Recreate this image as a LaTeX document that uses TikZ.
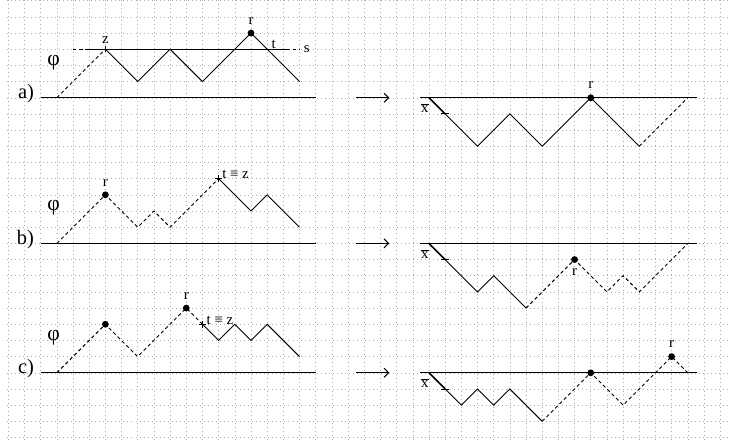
\documentclass[tikz,border=0pt]{standalone}
\usepackage{fontspec}
\setmainfont{Liberation Serif}
\usetikzlibrary{arrows.meta}
\begin{document}
\begin{tikzpicture}[x=0.5cm,y=-0.5cm,
  gridline/.style={black!32, line width=0.45pt, dash pattern=on 0.6pt off 2.94pt},
  pth/.style={line width=0.8pt, line join=miter},
  dpth/.style={line width=0.8pt, dash pattern=on 3pt off 2.4pt},
  thickseg/.style={line width=1.4pt},
  base/.style={line width=1.1pt},
  lbl/.style={font=\fontsize{13}{15}\selectfont, inner sep=0pt},
  panel/.style={font=\fontsize{18}{20}\selectfont, inner sep=0pt, anchor=base east},
  phil/.style={font=\fontsize{19}{21}\selectfont, inner sep=0pt},
  dot/.style={circle, fill=black, inner sep=0pt, minimum size=6pt},
  arr/.style={line width=0.9pt, -{Straight Barb[length=4pt,width=8pt]}},
]
\useasboundingbox (-0.513,-0.043) rectangle (44.67,27.21);
% grid
\foreach \i in {0,...,44} \draw[gridline] (\i,-0.043) -- (\i,27.21);
\foreach \j in {0,...,27} \draw[gridline] (-0.1,\j) -- (44.67,\j);

% ===== panel a, left =====
\coordinate (aB1) at (2,6); \coordinate (aB2) at (19,6);
\coordinate (aP0) at (3,6); \coordinate (aZ) at (6,3);
\coordinate (aP2) at (8,5); \coordinate (aP3) at (10,3); \coordinate (aP4) at (12,5);
\coordinate (aR) at (15,2); \coordinate (aP6) at (18,5);
\coordinate (aS0) at (4,3); \coordinate (aS1) at (4.9,3); \coordinate (aS2) at (17.2,3); \coordinate (aS3) at (18,3);
\draw[base] (aB1) -- (aB2);
\draw[dpth] (aP0) -- (aZ);
\draw[pth] (aZ) -- (aP2) -- (aP3) -- (aP4) -- (aR) -- (aP6);
\draw[dpth] (aS0) -- (aS1);
\draw[pth] (aS1) -- (aS2);
\draw[dpth] (aS2) -- (aS3);
\draw[pth,line width=0.6pt] (aZ) ++(-0.2,0) -- ++(0.4,0) (aZ) ++(0,-0.2) -- ++(0,0.4);
\node[dot] (aRd) at (aR) {};
\node[panel] (alab) at (1.6,6.05) {a)};
\node[phil] (aphi) at (2.8,3.85) {φ};
\node[lbl] (az) at (6,2.45) {z};
\node[lbl] (ar) at (15,1.24) {r};
\node[lbl] (at) at (16.4,2.72) {t};
\node[lbl] (as) at (18.45,3.0) {s};

% ===== panel a, right =====
\coordinate (AB1) at (25.45,6); \coordinate (AB2) at (42.55,6);
\coordinate (AP0) at (26,6); \coordinate (AT) at (27,7);
\coordinate (AP1) at (29,9); \coordinate (AP2) at (31,7); \coordinate (AP3) at (33,9);
\coordinate (AR) at (36,6); \coordinate (AP5) at (39,9); \coordinate (AP6) at (42,6);
\draw[base] (AB1) -- (AB2);
\draw[thickseg] (AP0) -- (AT);
\draw[pth] (AT) -- (AP1) -- (AP2) -- (AP3) -- (AR) -- (AP5);
\draw[dpth] (AP5) -- (AP6);
\draw[pth] (AT) ++(-0.25,0) -- ++(0.5,0);
\node[dot] (ARd) at (AR) {};
\node[lbl] (Ax) at (25.75,6.65) {$\overline{\mbox{x}}$};
\node[lbl] (Ar) at (36,5.2) {r};

% ===== panel b, left =====
\coordinate (bB1) at (2,15); \coordinate (bB2) at (19,15);
\coordinate (bP0) at (3,15); \coordinate (bR) at (6,12); \coordinate (bP2) at (8,14);
\coordinate (bP3) at (9,13); \coordinate (bP4) at (10,14); \coordinate (bZ) at (13,11);
\coordinate (bP6) at (15,13); \coordinate (bP7) at (16,12); \coordinate (bP8) at (18,14);
\draw[base] (bB1) -- (bB2);
\draw[dpth] (bP0) -- (bR) -- (bP2) -- (bP3) -- (bP4) -- (bZ);
\draw[pth] (bZ) -- (bP6) -- (bP7) -- (bP8);
\draw[pth,line width=0.6pt] (bZ) ++(-0.2,0) -- ++(0.4,0) (bZ) ++(0,-0.2) -- ++(0,0.4);
\node[dot] (bRd) at (bR) {};
\node[panel] (blab) at (1.6,15.05) {b)};
\node[phil] (bphi) at (2.8,12.8) {φ};
\node[lbl] (br) at (6,11.3) {r};
\node[lbl,anchor=base west] (btz) at (13.22,11.02) {t ≡ z};

% ===== panel b, right =====
\coordinate (BB1) at (25.45,15); \coordinate (BB2) at (42.55,15);
\coordinate (BP0) at (26,15); \coordinate (BT) at (27,16);
\coordinate (BP1) at (29,18); \coordinate (BP2) at (30,17); \coordinate (BP3) at (32,19);
\coordinate (BR) at (35,16); \coordinate (BP5) at (37,18); \coordinate (BP6) at (38,17);
\coordinate (BP7) at (39,18); \coordinate (BP8) at (42,15);
\draw[base] (BB1) -- (BB2);
\draw[thickseg] (BP0) -- (BT);
\draw[pth] (BT) -- (BP1) -- (BP2) -- (BP3);
\draw[dpth] (BP3) -- (BR) -- (BP5) -- (BP6) -- (BP7) -- (BP8);
\draw[pth] (BT) ++(-0.25,0) -- ++(0.5,0);
\node[dot] (BRd) at (BR) {};
\node[lbl] (Bx) at (25.75,15.65) {$\overline{\mbox{x}}$};
\node[lbl] (Br) at (35,16.75) {r};

% ===== panel c, left =====
\coordinate (cB1) at (2,23); \coordinate (cB2) at (19,23);
\coordinate (cP0) at (3,23); \coordinate (cD) at (6,20); \coordinate (cP2) at (8,22);
\coordinate (cR) at (11,19); \coordinate (cZ) at (12,20);
\coordinate (cP5) at (13,21); \coordinate (cP6) at (14,20); \coordinate (cP7) at (15,21);
\coordinate (cP8) at (16,20); \coordinate (cP9) at (18,22);
\draw[base] (cB1) -- (cB2);
\draw[dpth] (cP0) -- (cD) -- (cP2) -- (cR) -- (cZ);
\draw[pth] (cZ) -- (cP5) -- (cP6) -- (cP7) -- (cP8) -- (cP9);
\draw[pth,line width=0.6pt] (cZ) ++(-0.2,0) -- ++(0.4,0) (cZ) ++(0,-0.2) -- ++(0,0.4);
\node[dot] (cDd) at (cD) {};
\node[dot] (cRd) at (cR) {};
\node[panel] (clab) at (1.6,23.03) {c)};
\node[phil] (cphi) at (2.8,20.85) {φ};
\node[lbl] (cr) at (11,18.25) {r};
\node[lbl,anchor=base west] (ctz) at (12.25,20.0) {t ≡ z};

% ===== panel c, right =====
\coordinate (CB1) at (25.45,23); \coordinate (CB2) at (42.55,23);
\coordinate (CP0) at (26,23); \coordinate (CT) at (27,24);
\coordinate (CP1) at (28,25); \coordinate (CP2) at (29,24); \coordinate (CP3) at (30,25);
\coordinate (CP4) at (31,24); \coordinate (CP5) at (33,26);
\coordinate (CD) at (36,23); \coordinate (CP7) at (38,25); \coordinate (CR) at (41,22);
\coordinate (CP9) at (42,23);
\draw[base] (CB1) -- (CB2);
\draw[thickseg] (CP0) -- (CT);
\draw[pth] (CT) -- (CP1) -- (CP2) -- (CP3) -- (CP4) -- (CP5);
\draw[dpth] (CP5) -- (CD) -- (CP7) -- (CR) -- (CP9);
\draw[pth] (CT) ++(-0.25,0) -- ++(0.5,0);
\node[dot] (CDd) at (CD) {};
\node[dot] (CRd) at (CR) {};
\node[lbl] (Cx) at (25.75,23.65) {$\overline{\mbox{x}}$};
\node[lbl] (Cr) at (41,21.2) {r};

% ===== arrows =====
\coordinate (ar1a) at (21.5,6);  \coordinate (ar1b) at (23.55,6);
\coordinate (ar2a) at (21.5,15); \coordinate (ar2b) at (23.55,15);
\coordinate (ar3a) at (21.5,23); \coordinate (ar3b) at (23.55,23);
\draw[arr] (ar1a) -- (ar1b);
\draw[arr] (ar2a) -- (ar2b);
\draw[arr] (ar3a) -- (ar3b);
\end{tikzpicture}
\end{document}
